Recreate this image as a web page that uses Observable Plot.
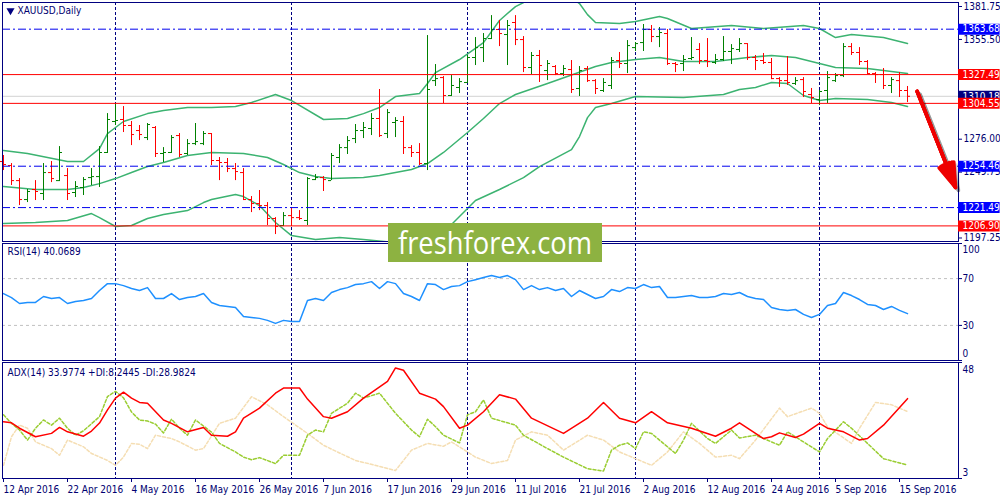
<!DOCTYPE html>
<html><head><meta charset="utf-8">
<script src="https://cdn.jsdelivr.net/npm/d3@7"></script>
<script src="https://cdn.jsdelivr.net/npm/@observablehq/plot@0.6"></script>
<style>
body{margin:0;background:#fff;}
#wrap{position:relative;width:1000px;height:500px;overflow:hidden;background:#fff;}
#wrap > svg{position:absolute;left:0;}
#wm{position:absolute;left:388px;top:223px;width:214px;height:39px;background:#8db241;}
</style></head><body><div id="wrap"></div>
<script>
// ---------- DATA (XAUUSD Daily, bar 0 = 12 Apr 2016) ----------
const open = [1258.2,1255.0,1243.0,1227.9,1235.9,1232.7,1249.4,1243.0,1247.0,1233.5,1237.5,1245.4,1246.2,1265.4,1290.1,1291.7,1286.9,1282.9,1277.3,1285.3,1264.6,1265.4,1278.9,1264.6,1272.5,1272.5,1280.5,1259.0,1257.4,1252.6,1249.4,1227.9,1224.7,1223.1,1212.8,1207.2,1215.1,1213.5,1211.2,1243.8,1245.4,1243.0,1261.4,1269.3,1276.5,1282.9,1284.5,1292.5,1280.5,1289.3,1290.1,1269.3,1265.4,1256.6,1322.7,1325.1,1310.8,1317.2,1321.2,1341.1,1349.0,1356.2,1363.4,1359.4,1369.0,1355.4,1333.1,1342.7,1330.7,1333.9,1328.3,1331.5,1316.4,1332.3,1322.7,1314.8,1318.8,1338.7,1336.3,1349.0,1353.0,1363.4,1357.8,1360.2,1336.3,1336.3,1340.3,1347.5,1338.7,1337.1,1339.5,1345.9,1347.5,1352.2,1341.1,1338.7,1337.1,1324.3,1322.7,1320.4,1323.5,1311.6,1307.6,1314.8,1322.7,1326.7,1349.8,1345.1,1337.9,1328.3,1327.5,1318.8,1322.7,1314.8];
const high = [1263.0,1256.6,1244.6,1235.9,1243.0,1256.6,1258.2,1270.1,1252.6,1242.2,1245.4,1252.6,1270.1,1296.4,1304.4,1302.0,1290.1,1286.9,1288.5,1286.1,1269.3,1278.9,1280.5,1275.7,1288.5,1282.1,1280.5,1261.4,1260.6,1256.6,1252.6,1230.3,1235.1,1225.5,1213.5,1217.5,1221.5,1219.1,1245.4,1247.8,1246.2,1264.6,1271.7,1278.1,1287.7,1289.3,1296.4,1315.6,1299.6,1293.2,1294.0,1270.9,1272.5,1358.6,1335.5,1325.9,1326.7,1324.3,1342.7,1357.0,1360.2,1374.5,1370.6,1370.6,1374.5,1357.8,1345.1,1346.7,1338.7,1334.7,1334.7,1338.7,1333.9,1333.9,1323.5,1324.3,1341.1,1345.1,1354.6,1353.0,1367.4,1366.6,1365.0,1363.4,1337.1,1342.7,1357.0,1352.2,1356.2,1343.5,1357.8,1351.4,1356.2,1352.2,1342.7,1344.3,1340.3,1325.1,1341.9,1325.1,1325.1,1316.4,1314.8,1329.9,1328.3,1352.2,1352.2,1349.0,1338.7,1329.1,1332.3,1325.1,1329.1,1318.0];
const low = [1251.0,1239.1,1223.1,1225.5,1227.1,1227.1,1241.4,1242.2,1227.1,1229.5,1231.1,1239.1,1237.5,1264.6,1286.9,1281.3,1270.9,1274.9,1274.9,1261.4,1257.4,1264.6,1261.4,1263.0,1270.9,1270.9,1255.0,1243.0,1249.4,1243.0,1227.1,1217.5,1219.1,1207.2,1200.0,1206.4,1206.4,1211.2,1207.2,1243.0,1234.3,1243.0,1256.6,1263.8,1272.5,1276.5,1278.9,1277.3,1276.5,1277.3,1263.8,1261.4,1255.0,1251.0,1318.0,1304.4,1310.0,1312.4,1320.4,1334.7,1337.1,1355.4,1349.8,1334.7,1350.6,1329.1,1327.5,1321.2,1322.7,1326.7,1325.9,1312.4,1310.0,1321.2,1311.6,1313.2,1315.6,1332.3,1328.3,1345.9,1345.9,1353.0,1349.0,1334.7,1329.1,1329.9,1338.7,1335.5,1333.1,1335.5,1337.9,1335.5,1345.1,1338.7,1330.7,1335.5,1323.5,1317.2,1318.8,1318.8,1309.2,1304.4,1302.8,1304.4,1321.2,1325.1,1342.7,1334.7,1327.5,1320.4,1315.6,1312.4,1309.2,1305.2];
const close = [1255.8,1243.0,1227.9,1234.3,1234.3,1249.4,1244.6,1265.4,1232.7,1238.3,1243.8,1246.2,1265.4,1291.7,1290.9,1286.9,1279.7,1279.7,1287.7,1264.6,1265.4,1277.3,1263.8,1272.5,1274.1,1280.5,1259.0,1257.4,1252.6,1250.2,1227.9,1224.7,1223.1,1212.8,1206.4,1215.1,1213.5,1212.8,1244.6,1245.4,1243.8,1263.0,1269.3,1274.9,1282.9,1285.3,1292.5,1278.9,1297.2,1290.9,1269.3,1265.4,1256.6,1315.6,1324.3,1310.8,1318.8,1321.9,1341.1,1349.0,1356.2,1363.4,1360.2,1366.6,1355.4,1333.1,1342.7,1334.7,1336.3,1328.3,1332.3,1315.6,1330.7,1322.7,1316.4,1321.2,1338.7,1336.3,1350.6,1352.2,1363.4,1357.8,1361.0,1336.3,1335.5,1339.5,1341.1,1338.7,1337.9,1339.5,1345.9,1348.2,1352.2,1341.1,1338.7,1337.1,1324.3,1322.7,1321.2,1322.7,1314.0,1309.2,1314.0,1325.1,1326.7,1349.8,1345.1,1337.9,1328.3,1327.5,1318.8,1323.5,1314.8,1310.18];

// Bollinger bands, [bar, price]
const bbUpper = [[0,1267.0],[3,1264.6],[8,1258.2],[10,1258.2],[12,1268.5],[13,1280.5],[14,1285.3],[15,1290.1],[18,1296.4],[20,1298.8],[23,1301.2],[26,1301.2],[29,1302.0],[31,1305.2],[34,1311.6],[36,1306.8],[40,1291.7],[43,1292.5],[45,1296.4],[47,1301.2],[49,1310.0],[52,1312.4],[53,1320.4],[54,1329.1],[57,1339.5],[60,1353.0],[62,1370.6],[64,1381.7],[65,1384.9],[67,1391.3],[69,1393.7],[71,1388.9],[72,1384.1],[73,1375.3],[74,1369.0],[77,1368.2],[79,1369.8],[82,1373.8],[83,1372.2],[86,1364.2],[91,1366.6],[95,1364.2],[100,1366.6],[102,1364.2],[104,1357.0],[106,1359.4],[110,1357.0],[113,1352.2]];
const bbMiddle = [[0,1238.3],[4,1235.9],[8,1235.9],[10,1237.5],[12,1240.6],[14,1244.6],[16,1249.4],[18,1254.2],[20,1257.4],[23,1263.0],[26,1265.4],[30,1264.6],[33,1261.4],[35,1255.8],[37,1249.4],[39,1246.2],[41,1244.6],[45,1245.4],[47,1247.0],[51,1251.8],[53,1256.6],[55,1265.4],[58,1281.3],[60,1292.5],[62,1304.4],[64,1311.6],[68,1320.4],[74,1333.9],[76,1337.1],[79,1339.5],[82,1341.1],[85,1337.9],[89,1337.9],[93,1341.1],[96,1342.7],[99,1341.1],[102,1336.3],[104,1333.1],[108,1332.3],[113,1328.3]];
const bbLower = [[0,1208.8],[4,1209.6],[8,1211.2],[11,1216.7],[12,1213.5],[14,1206.4],[16,1207.2],[18,1212.8],[20,1215.9],[23,1219.1],[25,1225.5],[26,1227.9],[29,1231.9],[30,1230.3],[32,1223.1],[34,1209.6],[36,1199.2],[39,1196.0],[42,1197.6],[45,1196.0],[49,1193.6],[52,1195.2],[55,1202.4],[56,1208.0],[58,1220.7],[59,1227.1],[62,1235.9],[65,1245.4],[67,1254.2],[71,1267.7],[72,1278.1],[73,1293.2],[74,1301.2],[76,1304.4],[79,1310.0],[85,1309.2],[90,1311.6],[92,1315.6],[94,1317.2],[96,1321.2],[98,1320.4],[100,1310.8],[102,1306.8],[104,1308.4],[108,1307.6],[111,1305.2],[113,1302.0]];

const rsi14 = [57.2,53.8,48.7,49.6,49.6,54.7,53.0,53.8,48.7,50.5,51.3,53.0,59.8,65.7,65.7,64.0,61.5,59.8,62.3,53.0,53.0,57.2,52.1,53.8,54.7,57.2,49.6,47.0,46.2,45.3,37.7,36.8,36.0,34.3,31.7,34.3,33.4,33.4,51.3,53.0,51.3,58.1,60.6,62.3,64.9,65.7,67.4,61.5,67.4,65.7,57.2,54.7,51.3,65.7,64.9,60.6,63.2,64.0,67.4,69.1,70.9,72.6,70.9,72.6,69.1,60.6,64.0,60.6,62.3,59.8,61.5,54.7,59.8,56.4,53.0,54.7,60.6,58.9,62.3,61.5,64.9,62.3,63.2,53.8,53.8,54.7,55.5,53.8,53.8,54.7,57.2,56.4,58.1,54.7,53.0,52.1,45.3,43.6,42.8,43.6,39.4,36.8,39.4,47.0,48.7,58.1,55.5,52.1,47.9,47.0,43.6,46.2,42.8,40.07];

const adx = [[0,25.0],[1,24.6],[2,22.5],[4,19.2],[6,20.5],[7,22.8],[8,21.1],[10,19.4],[11,21.4],[12,24.5],[13,29.6],[14,34.2],[15,36.5],[16,34.2],[17,32.5],[18,32.2],[20,25.7],[21,24.4],[23,21.1],[25,22.8],[26,19.8],[28,19.4],[29,21.1],[30,26.4],[32,30.3],[34,36.1],[35,38.1],[37,38.1],[38,33.8],[40,27.0],[41,26.4],[43,28.9],[45,34.2],[48,40.7],[49,45.9],[50,45.0],[52,36.1],[54,33.8],[55,30.9],[57,22.5],[58,23.7],[60,28.9],[62,35.5],[64,33.8],[66,26.4],[70,20.5],[73,26.4],[75,32.5],[77,26.4],[79,24.6],[81,28.9],[83,24.6],[86,22.5],[89,19.4],[91,22.5],[92,24.6],[95,18.5],[96,19.2],[97,20.7],[99,18.9],[100,20.2],[102,24.4],[103,22.5],[105,21.1],[107,17.9],[108,18.5],[110,23.7],[113,33.98]];
const plusDI = [[0,27.7],[1,24.4],[2,21.8],[3,17.9],[4,22.5],[5,25.7],[6,23.7],[7,26.4],[8,22.5],[9,19.8],[10,21.5],[12,27.0],[13,34.8],[14,36.8],[15,34.3],[16,28.8],[17,25.7],[18,25.3],[19,24.1],[20,20.7],[21,26.0],[22,22.5],[23,19.8],[24,25.7],[26,21.0],[27,16.6],[29,13.3],[30,11.3],[31,10.3],[32,11.1],[34,8.8],[35,12.0],[37,12.0],[38,19.8],[39,21.8],[40,21.1],[41,28.3],[43,32.2],[44,36.1],[45,34.2],[47,36.1],[49,28.3],[51,21.8],[52,19.2],[53,26.0],[54,23.1],[55,19.8],[57,16.8],[58,27.7],[59,28.9],[60,33.5],[61,26.4],[63,24.6],[64,23.7],[65,19.8],[68,14.6],[70,11.3],[73,6.8],[75,5.9],[76,14.0],[77,15.9],[78,16.8],[79,14.6],[80,21.1],[81,20.5],[82,17.9],[84,12.7],[85,17.9],[86,24.4],[88,18.5],[89,16.6],[91,21.8],[92,18.7],[94,19.8],[97,15.9],[98,21.1],[100,17.2],[102,13.3],[103,18.5],[105,25.0],[106,22.5],[108,16.6],[110,10.7],[113,8.2445]];
const minusDI = [[0,8.1],[1,19.2],[2,23.7],[3,22.5],[4,17.2],[6,14.6],[7,12.0],[8,17.9],[10,15.3],[11,12.7],[13,10.0],[14,8.1],[15,11.3],[16,16.6],[17,16.3],[18,14.6],[19,19.8],[21,18.5],[22,17.2],[24,14.0],[25,14.6],[27,24.4],[29,26.4],[31,34.7],[33,31.6],[35,27.0],[38,20.5],[40,15.9],[42,12.9],[44,10.0],[47,7.7],[49,6.1],[50,10.0],[51,14.0],[53,16.6],[55,15.5],[56,17.2],[58,13.3],[59,11.3],[61,8.8],[63,10.0],[64,17.9],[66,21.1],[68,19.8],[70,14.0],[71,15.9],[73,19.8],[75,17.9],[77,13.3],[79,10.7],[81,8.1],[83,13.3],[85,21.1],[87,16.6],[89,11.3],[91,12.0],[92,10.7],[94,17.9],[97,30.3],[98,27.0],[101,30.3],[102,28.3],[103,23.1],[106,16.6],[107,22.5],[109,32.5],[111,31.6],[113,28.9824]];

const dateTicks = [0,8,16,24,32,40,48,56,64,72,80,88,96,104,112];
const dateLabels = ["12 Apr 2016","22 Apr 2016","4 May 2016","16 May 2016","26 May 2016","7 Jun 2016","17 Jun 2016","29 Jun 2016","11 Jul 2016","21 Jul 2016","2 Aug 2016","12 Aug 2016","24 Aug 2016","5 Sep 2016","15 Sep 2016"];
const monthStarts = [14,36,58,79,102];
const priceTicks = [1381.75,1355.50,1276.00,1249.75,1197.25];
const blueLevels = [1363.68,1254.46,1221.49];
const redLevels = [1327.49,1304.55,1206.90];
const bidPrice = [1310.18];
const rsiLevels = [70,30];
const arrowSeg = [{b1:114.2,p1:1314.2,b2:119.0,p2:1237.5}];
const titleMain = "XAUUSD,Daily";
const titleRsi = "RSI(14) 40.0689";
const titleAdx = "ADX(14) 33.9774 +DI:8.2445 -DI:28.9824";

// ---------- STYLE ----------
const FONT = "Tahoma, 'DejaVu Sans Condensed', 'Liberation Sans', Arial, sans-serif";
const NAVY = "#000080", TXT = "#000070", GREEN = "#008000", RED = "#ff0000", BLUE = "#0000ee", BBC = "#3cb371";
const X_DOMAIN = [-0.125, 119.375];
const styleBase = {fontFamily: FONT, fontSize: "10px", color: TXT, background: "transparent", overflow: "visible"};
const bars = d3.range(open.length).map(i => ({i, o: open[i], h: high[i], l: low[i], c: close[i]}));
const barColor = d => d.c >= d.o ? GREEN : RED;
const f2 = d3.format(".2f");
const wrap = document.getElementById("wrap");
function place(svg, top){ svg.style.top = top + "px"; wrap.appendChild(svg); }
const sep = () => Plot.ruleX(monthStarts, {x: d => d, stroke: NAVY, strokeDasharray: "3,2"});
const arrowMarks = (stroke, opacity, dx, dy) => [36, 26, 16, 6].map(a =>
  Plot.arrow(arrowSeg, {x1: "b1", y1: "p1", x2: "b2", y2: "p2", stroke, strokeOpacity: opacity, strokeWidth: 3.5, headLength: 11, headAngle: a, dx, dy}));

// ---------- MAIN PANEL ----------
const main = Plot.plot({
  width: 1000, height: 243, marginLeft: 2, marginRight: 42, marginTop: 2, marginBottom: 2,
  x: {domain: X_DOMAIN, axis: null},
  y: {domain: [1194.46, 1384.94], axis: null, label: null},
  color: {type: "identity"},
  style: styleBase,
  marks: [
    sep(),
    Plot.ruleY(bidPrice, {y: d => d, stroke: "#d3d3d3"}),
    Plot.line(bbUpper, {x: d => d[0], y: d => d[1], stroke: BBC, clip: true}),
    Plot.line(bbMiddle, {x: d => d[0], y: d => d[1], stroke: BBC, clip: true}),
    Plot.line(bbLower, {x: d => d[0], y: d => d[1], stroke: BBC, clip: true}),
    Plot.ruleX(bars, {x: "i", y1: "l", y2: "h", stroke: barColor}),
    Plot.ruleY(bars, {y: "o", x1: d => d.i - 0.375, x2: "i", stroke: barColor}),
    Plot.ruleY(bars, {y: "c", x1: "i", x2: d => d.i + 0.375, stroke: barColor}),
    Plot.ruleY(blueLevels, {y: d => d, stroke: BLUE, strokeDasharray: "8,3,2,3"}),
    Plot.ruleY(redLevels, {y: d => d, stroke: RED}),
    Plot.frame({stroke: NAVY}),
    Plot.axisY({anchor: "right", ticks: priceTicks, tickFormat: f2, tickSize: 3, tickPadding: 2, stroke: NAVY}),
    Plot.ruleY(blueLevels, {y: d => d, x1: X_DOMAIN[1], x2: X_DOMAIN[1] + 5.2, stroke: "#0000ff", strokeWidth: 11, clip: false}),
    Plot.text(blueLevels, {y: d => d, x: X_DOMAIN[1], dx: 4, text: f2, fill: "white", textAnchor: "start", clip: false}),
    Plot.ruleY(bidPrice, {y: d => d, x1: X_DOMAIN[1], x2: X_DOMAIN[1] + 5.2, stroke: NAVY, strokeWidth: 11, clip: false}),
    Plot.text(bidPrice, {y: d => d, x: X_DOMAIN[1], dx: 4, text: f2, fill: "white", textAnchor: "start", clip: false}),
    Plot.ruleY(redLevels, {y: d => d, x1: X_DOMAIN[1], x2: X_DOMAIN[1] + 5.2, stroke: RED, strokeWidth: 11, clip: false}),
    Plot.text(redLevels, {y: d => d, x: X_DOMAIN[1], dx: 4, text: f2, fill: "white", textAnchor: "start", clip: false}),
    ...arrowMarks("#000", 0.12, 3, 3),
    ...arrowMarks("#ee0000", 1, 0, 0),
    Plot.dot([titleMain], {frameAnchor: "top-left", dx: 8, dy: 8, symbol: "triangle", rotate: 180, r: 3, fill: NAVY, stroke: null}),
    Plot.text([titleMain], {frameAnchor: "top-left", text: d => d, dx: 15, dy: 8.5, lineAnchor: "middle", textAnchor: "start", fill: TXT})
  ]
});
place(main, 0);

// ---------- RSI PANEL ----------
const rsiPlot = Plot.plot({
  width: 1000, height: 121, marginLeft: 2, marginRight: 42, marginTop: 2, marginBottom: 2,
  x: {domain: X_DOMAIN, axis: null},
  y: {domain: [0, 100], axis: null, label: null},
  style: styleBase,
  marks: [
    sep(),
    Plot.ruleY(rsiLevels, {y: d => d, stroke: "#c0c0c0", strokeDasharray: "3,3"}),
    Plot.line(rsi14, {x: (d, i) => i, y: d => d, stroke: "#1e90ff"}),
    Plot.frame({stroke: NAVY}),
    Plot.axisY({anchor: "right", ticks: [100, 70, 30, 0], tickFormat: () => "", tickSize: 3, stroke: NAVY}),
    Plot.axisY({anchor: "right", ticks: rsiLevels, tickSize: 0, tickPadding: 4}),
    Plot.axisY({anchor: "right", ticks: [100], tickSize: 0, tickPadding: 4, dy: 6}),
    Plot.axisY({anchor: "right", ticks: [0], tickSize: 0, tickPadding: 4, dy: -7}),
    Plot.text([titleRsi], {frameAnchor: "top-left", text: d => d, dx: 5, dy: 8.5, lineAnchor: "middle", textAnchor: "start", fill: TXT})
  ]
});
place(rsiPlot, 241);

// ---------- ADX PANEL ----------
const adxPlot = Plot.plot({
  width: 1000, height: 140, marginLeft: 2, marginRight: 42, marginTop: 2, marginBottom: 22,
  x: {domain: X_DOMAIN, label: null},
  y: {domain: [3, 48], axis: null, label: null},
  style: styleBase,
  marks: [
    sep(),
    Plot.line(minusDI, {x: d => d[0], y: d => d[1], stroke: "#f5deb3", strokeDasharray: "3,2"}),
    Plot.line(plusDI, {x: d => d[0], y: d => d[1], stroke: "#9acd32", strokeDasharray: "3,2"}),
    Plot.line(adx, {x: d => d[0], y: d => d[1], stroke: RED}),
    Plot.frame({stroke: NAVY}),
    Plot.axisY({anchor: "right", ticks: [48, 3], tickFormat: () => "", tickSize: 3, stroke: NAVY}),
    Plot.axisY({anchor: "right", ticks: [48], tickSize: 0, tickPadding: 4, dy: 7}),
    Plot.axisY({anchor: "right", ticks: [3], tickSize: 0, tickPadding: 4, dy: -6}),
    Plot.axisX({anchor: "bottom", ticks: dateTicks, tickFormat: d => dateLabels[dateTicks.indexOf(d)], tickSize: 4, tickPadding: 3, textAnchor: "start", dx: 0, stroke: NAVY}),
    Plot.text([titleAdx], {frameAnchor: "top-left", text: d => d, dx: 5, dy: 10, lineAnchor: "middle", textAnchor: "start", fill: TXT})
  ]
});
place(adxPlot, 360);

// ---------- WATERMARK ----------
const wm = document.createElement("div");
wm.id = "wm";
wm.innerHTML = '<svg width="214" height="39"><text x="10" y="30.5" textLength="194" lengthAdjust="spacingAndGlyphs" fill="#ffffff" font-family="\'Open Sans\', \'Noto Sans\', sans-serif" font-size="31">freshforex.com</text></svg>';
wrap.appendChild(wm);
</script>
</body></html>
